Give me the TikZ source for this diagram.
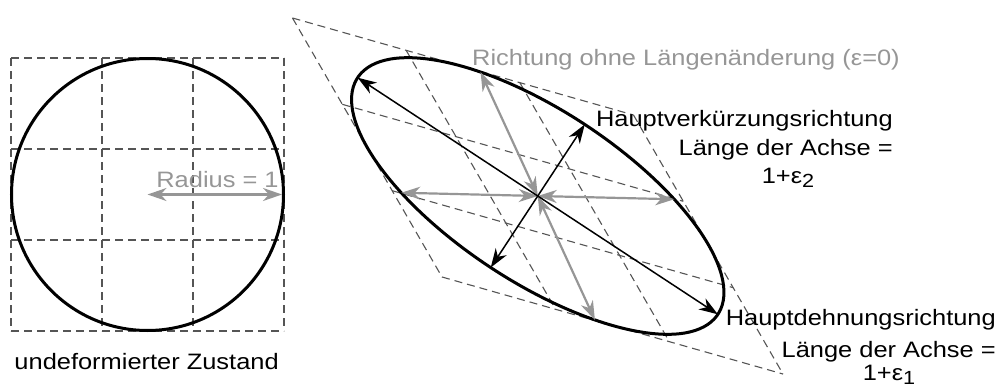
\documentclass[tikz,border=0pt]{standalone}
\usepackage{fontspec}
\setmainfont{Liberation Sans}[FakeStretch=1.14]
\usetikzlibrary{arrows.meta}
\definecolor{lgray}{RGB}{150,150,150}
\definecolor{dgray}{RGB}{85,85,85}
\newcommand\subx[1]{\raisebox{-4pt}{\fontsize{19}{19}\selectfont #1}}
\begin{document}
\begin{tikzpicture}[x=1pt,y=1pt,
  griddash/.style={draw=dgray, line width=1.1pt, dash pattern=on 8pt off 5pt},
  outline/.style={line width=3pt, draw=black},
  blackarr/.style={line width=1.5pt, draw=black,
     {Stealth[length=19pt,width=13pt,inset=6pt]}-{Stealth[length=19pt,width=13pt,inset=6pt]}},
  grayarr/.style={line width=2.2pt, draw=lgray,
     {Stealth[length=19pt,width=13pt,inset=6pt]}-{Stealth[length=19pt,width=13pt,inset=6pt]}},
  lbl/.style={inner sep=0pt, font=\fontsize{22.3}{26}\selectfont}
]
\useasboundingbox (0,0) rectangle (997,-388);

% ---------- undeformed state ----------
\foreach \i in {0,1,2,3}{
  \draw[griddash] ({11+91*\i},-58) -- ({11+91*\i},-331);
  \draw[griddash] (11,{-58-91*\i}) -- (284,{-58-91*\i});
}
\draw[outline] (147.5,-194.5) circle[radius=136];
\coordinate (c0) at (147.5,-194.5);
\coordinate (r0) at (282,-194.5);
\draw[grayarr] (c0) -- (r0);

% ---------- deformed state ----------
\begin{scope}[cm={341,-97,149.5,-259,(292.5,-18)}]
  \foreach \i in {0,1/3,2/3,1}{
    \draw[griddash] (\i,0) -- (\i,1);
    \draw[griddash] (0,\i) -- (1,\i);
  }
  \coordinate (ec) at (0.5,0.5);
  \coordinate (ma1) at ({0.5+0.5*cos(38.3)},{0.5+0.5*sin(38.3)});
  \coordinate (ma2) at ({0.5+0.5*cos(218.3)},{0.5+0.5*sin(218.3)});
  \coordinate (mi1) at ({0.5+0.5*cos(128.3)},{0.5+0.5*sin(128.3)});
  \coordinate (mi2) at ({0.5+0.5*cos(-51.7)},{0.5+0.5*sin(-51.7)});
  \coordinate (g1) at ({0.5+0.5*cos(-19.18)},{0.5+0.5*sin(-19.18)});
  \coordinate (g2) at ({0.5+0.5*cos(160.82)},{0.5+0.5*sin(160.82)});
  \coordinate (g3) at ({0.5+0.5*cos(-84.21)},{0.5+0.5*sin(-84.21)});
  \coordinate (g4) at ({0.5+0.5*cos(95.79)},{0.5+0.5*sin(95.79)});
  \draw[outline] (0.5,0.5) circle[radius=0.5];
\end{scope}

\draw[grayarr] (ec) -- (g1);
\draw[grayarr] (ec) -- (g2);
\draw[grayarr] (ec) -- (g3);
\draw[grayarr] (ec) -- (g4);
\draw[blackarr] (ma2) -- (ma1);
\draw[blackarr] (mi2) -- (mi1);

% ---------- labels ----------
\node[lbl, anchor=base, text=black] (lz) at (146.6,-369) {undeformierter Zustand};
\node[lbl, anchor=base, text=lgray] (lr) at (217.5,-187) {Radius = 1};
\node[lbl, anchor=base, text=lgray] (lrich) at (686,-65) {Richtung ohne Längenänderung (ε=0)};
\node[lbl, anchor=base east] (lhv) at (893,-126) {Hauptverkürzungsrichtung};
\node[lbl, anchor=base east] (lhv2) at (893,-155) {Länge der Achse =};
\node[lbl, anchor=base] (lhv3) at (788,-183) {1+ε\subx{2}};
\node[lbl, anchor=base east] (lhd) at (996,-325) {Hauptdehnungsrichtung};
\node[lbl, anchor=base east] (lhd2) at (996,-357) {Länge der Achse =};
\node[lbl, anchor=base] (lhd3) at (889,-380) {1+ε\subx{1}};
\end{tikzpicture}
\end{document}
